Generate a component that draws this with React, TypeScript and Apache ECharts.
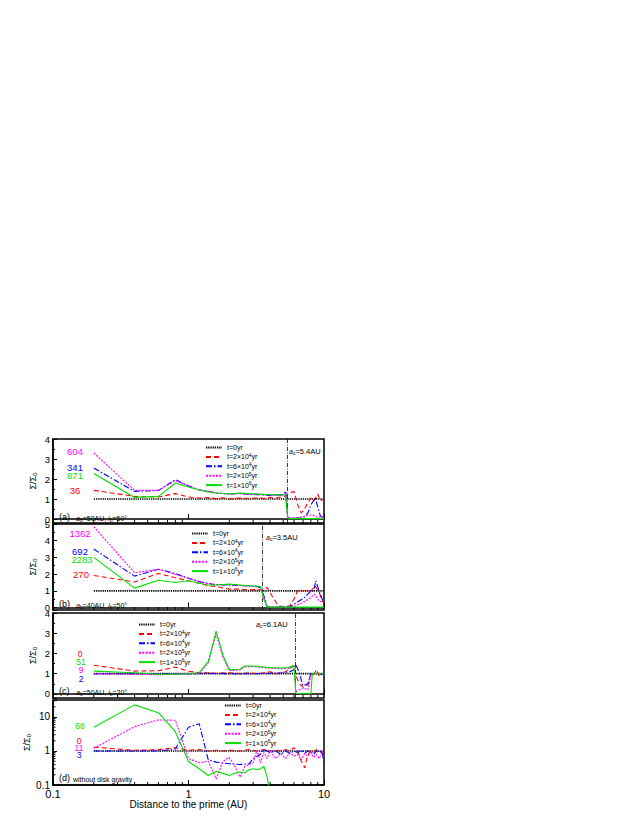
import React, { useEffect, useRef } from "react";
import * as echarts from "echarts";

const FONT = "Liberation Sans, Arial, sans-serif";

// ---------- data ----------
const seriesNames = ["t=0yr", "t=2×10^4yr", "t=6×10^4yr", "t=2×10^5yr", "t=1×10^6yr"];
const xTickLabels = ["0.1", "1", "10"];
const baseline = [[0.2, 1], [10, 1]];

// panel (a)
const aRed = [[0.2,1.43],[0.4,1.13],[0.6,1.1],[0.8,1.27],[1.0,1.1],[1.2,1.05],[1.4,1.07],[1.6,1.02],[1.8,1.06],[2.0,1.0],[2.4,1.05],[2.8,1.02],[3.2,1.06],[3.6,1.03],[4.0,1.08],[4.4,1.05],[4.8,1.1],[5.2,1.15],[5.6,1.3],[6.0,1.38],[6.4,0.7],[6.8,0.3],[7.2,0.5],[7.6,0.8],[8.0,1.05],[8.4,0.9],[9.0,1.25],[9.4,0.9],[10,1.0]];
const aBlue = [[0.2,2.55],[0.4,1.38],[0.6,1.43],[0.8,1.97],[1.0,1.65],[1.2,1.45],[1.4,1.38],[1.6,1.3],[2.0,1.25],[2.4,1.28],[2.8,1.24],[3.2,1.22],[3.6,1.2],[4.0,1.18],[4.4,1.2],[4.8,1.22],[5.0,1.2],[5.2,1.4],[5.4,0.05],[6.0,0.05],[7.0,0.05],[7.6,0.3],[8.0,0.7],[8.6,1.05],[9.0,0.6],[9.4,0.15],[10,0.05]];
const aMagenta = [[0.2,3.3],[0.4,1.43],[0.6,1.43],[0.8,1.92],[1.0,1.65],[1.2,1.45],[1.4,1.38],[1.6,1.3],[2.0,1.25],[2.4,1.27],[2.8,1.22],[3.2,1.25],[3.6,1.2],[4.0,1.2],[4.4,1.18],[4.8,1.2],[5.2,1.25],[5.4,0.05],[6.0,0.05],[7.0,0.1],[7.6,0.2],[8.2,0.2],[8.8,0.1],[10,0.1]];
const aGreen = [[0.2,2.27],[0.4,1.08],[0.6,1.13],[0.8,1.8],[1.0,1.6],[1.2,1.45],[1.4,1.35],[1.6,1.3],[2.0,1.25],[2.4,1.3],[2.8,1.27],[3.2,1.25],[3.6,1.23],[4.0,1.22],[4.4,1.22],[4.8,1.2],[5.2,1.22],[5.4,0.02],[10,0.02]];

// panel (b)
const bRed = [[0.2,1.92],[0.4,1.53],[0.6,2.04],[0.8,1.78],[1.0,1.6],[1.2,1.45],[1.4,1.3],[1.6,1.25],[2.0,1.1],[2.4,1.1],[2.8,1.05],[3.2,1.08],[3.4,1.05],[3.6,1.1],[3.8,1.2],[4.2,0.6],[4.6,0.1],[5.0,0.05],[5.6,0.1],[6.0,0.5],[6.4,1.0],[7.0,1.0],[8.0,1.0],[8.6,1.3],[9.2,0.9],[10,0.2]];
const bBlue = [[0.2,3.5],[0.4,1.88],[0.6,2.29],[0.8,2.04],[1.0,1.75],[1.2,1.55],[1.4,1.45],[1.6,1.35],[2.0,1.35],[2.4,1.32],[2.8,1.3],[3.2,1.25],[3.4,1.2],[3.6,0.7],[3.8,0.05],[4.4,0.02],[5.0,0.02],[5.6,0.05],[6.0,0.2],[6.6,0.4],[7.2,0.6],[7.6,0.8],[8.0,1.0],[8.4,1.0],[8.7,1.6],[9.2,1.0],[9.6,0.6],[10,0.2]];
const bMagenta = [[0.2,4.84],[0.4,2.08],[0.6,2.29],[0.8,1.98],[1.0,1.75],[1.2,1.55],[1.4,1.42],[1.6,1.38],[2.0,1.35],[2.4,1.32],[2.8,1.28],[3.2,1.25],[3.4,1.2],[3.6,0.6],[3.8,0.05],[5.0,0.02],[6.0,0.05],[7.0,0.3],[8.0,0.6],[8.5,0.8],[9.2,0.4],[10,0.3]];
const bGreen = [[0.2,3.0],[0.4,1.16],[0.6,1.63],[0.8,1.5],[1.0,1.6],[1.2,1.45],[1.4,1.35],[1.6,1.35],[2.0,1.4],[2.4,1.35],[2.8,1.3],[3.2,1.28],[3.4,1.25],[3.6,0.5],[3.8,0.02],[10,0.02]];

// panel (c)
const cRed = [[0.2,1.42],[0.4,1.13],[0.6,1.15],[0.8,1.33],[1.0,1.12],[1.2,1.05],[1.4,1.05],[1.6,1.02],[2.0,1.05],[2.4,1.0],[2.8,1.05],[3.2,1.0],[3.6,1.05],[4.0,1.1],[4.4,1.0],[4.8,1.05],[5.2,1.1],[5.6,1.25],[6.0,1.4],[6.2,0.9],[6.6,0.5],[7.0,0.35],[7.6,0.45],[8.0,1.0],[8.4,0.95],[8.8,1.2],[9.2,0.9],[9.6,1.0],[10,1.0]];
const cBlue = [[0.2,1.0],[0.6,1.0],[1.0,1.0],[1.4,1.02],[2.0,1.0],[3.0,1.0],[4.0,1.02],[5.0,1.05],[5.6,1.1],[6.0,1.2],[6.2,1.45],[6.6,1.0],[7.0,0.4],[7.6,0.5],[8.0,1.0],[8.4,1.0],[9.0,1.0],[9.6,0.95],[10,1.0]];
const cMagenta = [[0.2,1.0],[0.6,0.95],[1.0,1.0],[1.2,1.0],[1.4,1.55],[1.6,2.95],[1.8,1.8],[2.0,1.15],[2.4,1.18],[2.6,1.35],[3.0,1.35],[3.6,1.3],[4.0,1.27],[4.8,1.25],[5.4,1.25],[6.0,1.38],[6.2,0.1],[7.0,0.3],[7.6,0.2],[8.0,0.9],[8.4,1.0],[9.0,1.0],[10,1.0]];
const cGreen = [[0.2,1.13],[0.4,1.05],[0.6,0.97],[0.8,0.97],[1.0,1.0],[1.2,1.05],[1.4,1.6],[1.6,3.1],[1.8,1.9],[2.0,1.2],[2.4,1.22],[2.6,1.38],[3.0,1.38],[3.6,1.33],[4.0,1.3],[4.8,1.28],[5.4,1.3],[6.0,1.4],[6.2,0.02],[7.0,0.02],[8.0,0.02],[8.2,1.0],[9.0,1.0],[10,1.0]];

// panel (d)
const dRed = [[0.2,1.3],[0.4,1.05],[0.6,1.1],[0.8,1.25],[1.0,1.05],[1.2,1.1],[1.4,1.0],[1.6,1.05],[1.8,1.0],[2.0,1.05],[2.4,1.0],[2.8,1.1],[3.2,1.0],[3.6,1.1],[4.0,1.0],[4.4,1.05],[4.8,1.0],[5.2,1.1],[5.6,1.0],[6.0,1.25],[6.4,1.0],[6.8,0.5],[7.2,0.32],[7.6,0.8],[8.0,1.0],[8.4,0.9],[8.8,1.1],[9.2,1.0],[9.6,0.9],[10,1.0]];
const dBlue = [[0.2,1.0],[0.4,1.0],[0.6,1.0],[0.8,1.15],[1.0,5.0],[1.2,6.3],[1.4,0.55],[1.6,0.47],[2.0,0.42],[2.4,0.4],[2.8,0.42],[3.0,0.6],[3.4,0.8],[3.6,1.1],[4.0,0.9],[4.4,1.0],[4.8,0.8],[5.2,1.0],[5.6,0.85],[6.0,1.0],[6.4,0.9],[6.8,1.05],[7.2,0.85],[7.6,1.0],[8.0,0.95],[8.4,0.8],[8.8,1.0],[9.2,0.9],[9.6,1.0],[10,0.5]];
const dMagenta = [[0.2,1.2],[0.4,5.2],[0.6,8.2],[0.8,8.0],[1.0,0.6],[1.2,0.45],[1.4,0.5],[1.6,0.15],[1.8,0.5],[2.0,0.65],[2.2,0.35],[2.4,0.17],[2.6,0.35],[2.8,0.4],[3.0,0.45],[3.2,1.05],[3.4,0.45],[3.6,0.9],[3.8,0.6],[4.0,1.0],[4.4,0.6],[4.8,0.85],[5.2,0.6],[5.6,0.9],[6.0,0.7],[6.4,0.8],[6.8,0.55],[7.2,0.85],[7.6,0.7],[8.0,0.9],[8.4,0.65],[8.8,0.8],[9.2,0.6],[9.6,0.85],[10,0.7]];
const dGreen = [[0.2,5.0],[0.4,22.7],[0.6,13.4],[0.8,3.7],[1.0,0.49],[1.2,0.3],[1.4,0.19],[1.6,0.25],[1.8,0.22],[2.0,0.19],[2.2,0.22],[2.4,0.24],[2.6,0.23],[2.8,0.28],[3.0,0.3],[3.2,0.28],[3.4,0.3],[3.6,0.35],[3.8,0.18],[4.0,0.05]];

const criticalRadius = [5.4, 3.5, 6.1, null];
const yMins = [-0.2, -0.15, -0.2, 0.1];
const yMaxs = [4, 5, 4, 31.6];
const leftNumbers = [
  [["604", "#ff00ff"], ["341", "#0000ff"], ["871", "#00e000"], ["36", "#ff0000"]],
  [["1362", "#ff00ff"], ["692", "#0000ff"], ["2283", "#00e000"], ["270", "#ff0000"]],
  [["0", "#ff0000"], ["51", "#00e000"], ["9", "#ff00ff"], ["2", "#0000ff"]],
  [["68", "#00e000"], ["0", "#ff0000"], ["11", "#ff00ff"], ["3", "#0000ff"]],
];
const panelData = [
  [aRed, aBlue, aMagenta, aGreen],
  [bRed, bBlue, bMagenta, bGreen],
  [cRed, cBlue, cMagenta, cGreen],
  [dRed, dBlue, dMagenta, dGreen],
];
const xMinorTicks = [0.2,0.3,0.4,0.5,0.6,0.7,0.8,0.9,2,3,4,5,6,7,8,9];
const yMinorTicksLog = [0.2,0.3,0.4,0.5,0.6,0.7,0.8,0.9,2,3,4,5,6,7,8,9,20,30];

// ---------- layout / style ----------
const grids = [
  { left: 53, top: 439, width: 271, height: 84 },
  { left: 53, top: 524, width: 271, height: 86 },
  { left: 53, top: 613, width: 271, height: 85 },
  { left: 53, top: 700, width: 271, height: 85 },
];
const lineStyles = [
  { color: "#000000", type: [1.3, 0.9], width: 1.7 },
  { color: "#ff0000", type: [5, 3], width: 1.1 },
  { color: "#0000ff", type: [6, 2, 1.5, 2], width: 1.1 },
  { color: "#ff00ff", type: [2, 1.3], width: 1.1 },
  { color: "#00e000", type: "solid", width: 1.1 },
];
const legendPos = [
  { left: 205, top: 443 },
  { left: 191, top: 529 },
  { left: 138, top: 620 },
  { left: 224, top: 701 },
];
const numberPos = [
  [[75, 451], [75, 467], [75, 475], [75, 490]],
  [[80, 533], [80, 551], [82, 559], [81, 574]],
  [[80, 654], [81, 662], [81, 670], [81, 679]],
  [[80, 726], [79, 741], [79, 748], [79, 755]],
];
const numberFont = [9.5, 9.5, 8.5, 8.5];
const acPos = [[289, 451], [266, 537], [256, 624]];
const panelLabelY = [517, 604, 691, 778];
const panelTexts = [
  "{it|a}{sub|b}{n|=50AU, }{it|i}{sub|b}{n|=50°}",
  "{it|a}{sub|b}{n|=40AU, }{it|i}{sub|b}{n|=50°}",
  "{it|a}{sub|b}{n|=50AU, }{it|i}{sub|b}{n|=20°}",
  "{n|without disk gravity}",
];
const panelTags = ["(a)", "(b)", "(c)", "(d)"];

function logLabel(v: number) {
  const l = Math.log10(v);
  const r = Math.round(l);
  if (Math.abs(l - r) < 1e-6 && r >= -1 && r <= 1) return xTickLabels[r + 1];
  return "";
}

export default function App() {
  const ref = useRef<HTMLDivElement>(null);
  useEffect(() => {
    if (!ref.current) return;
    const chart = echarts.init(ref.current, null, { renderer: "svg" });

    const xAxis: any[] = grids.map((_, i) => ({
      type: "log",
      gridIndex: i,
      min: 0.1,
      max: 10,
      logBase: 10,
      axisLine: { show: true, lineStyle: { color: "#000", width: 1.5 } },
      axisTick: { show: true, inside: true, length: 5, lineStyle: { color: "#000", width: 1 } },
      splitLine: { show: false },
      axisLabel: i === 3
        ? { show: true, formatter: (v: number) => logLabel(v), fontSize: 11, fontFamily: FONT, color: "#000", margin: 3 }
        : { show: false },
      name: i === 3 ? "Distance to the prime (AU)" : "",
      nameLocation: "middle",
      nameGap: 14,
      nameTextStyle: { fontSize: 10, fontFamily: FONT, color: "#000" },
    }));

    const yAxis: any[] = grids.map((_, i) => {
      const base: any = {
        gridIndex: i,
        min: yMins[i],
        max: yMaxs[i],
        axisLine: { show: true, lineStyle: { color: "#000", width: 1.5 } },
        axisTick: { show: true, inside: true, length: 4, lineStyle: { color: "#000", width: 1 } },
        splitLine: { show: false },
        name: "{m|Σ/Σ}{s|0}",
        nameLocation: "middle",
        nameRotate: 90,
        nameGap: 15,
        nameTextStyle: {
          color: "#000",
          rich: {
            m: { fontSize: 9, fontFamily: FONT, color: "#000" },
            s: { fontSize: 6, fontFamily: FONT, color: "#000", verticalAlign: "bottom", padding: [4, 0, 0, 0] },
          },
        },
      };
      if (i === 3) {
        base.type = "log";
        base.logBase = 10;
        base.axisLabel = { formatter: (v: number) => logLabel(v), fontSize: 10, fontFamily: FONT, color: "#000", margin: 3 };
      } else {
        base.type = "value";
        base.minorTick = { show: true, splitNumber: 2, length: 2, lineStyle: { color: "#000" } };
        base.axisLabel = {
          formatter: (v: number) => (Math.abs(v - Math.round(v)) < 1e-9 ? String(Math.round(v)) : ""),
          fontSize: 9.5, fontFamily: FONT, color: "#000", margin: 3,
        };
      }
      return base;
    });

    const series: any[] = [];
    grids.forEach((_, gi) => {
      const lists = [baseline, ...panelData[gi]];
      lists.forEach((d, si) => {
        const s: any = {
          type: "line",
          name: seriesNames[si],
          xAxisIndex: gi,
          yAxisIndex: gi,
          data: d,
          showSymbol: false,
          symbol: "none",
          lineStyle: { ...lineStyles[si] },
          itemStyle: { color: lineStyles[si].color },
          z: 2 + si,
        };
        if (si === 0 && criticalRadius[gi] != null) {
          s.markLine = {
            silent: true,
            symbol: "none",
            label: { show: false },
            lineStyle: { color: "#000", type: [4, 1.5, 1, 1.5], width: 0.8 },
            data: [{ xAxis: criticalRadius[gi] }],
          };
        }
        series.push(s);
      });
      series.push({
        type: "custom",
        xAxisIndex: gi,
        yAxisIndex: gi,
        data: xMinorTicks.map((v) => [v]),
        silent: true,
        renderItem: (params: any, api: any) => {
          const p = api.coord([api.value(0), yMins[gi]]);
          return { type: "line", shape: { x1: p[0], y1: p[1], x2: p[0], y2: p[1] - 3 }, style: { stroke: "#000", lineWidth: 1 } };
        },
      });
      if (gi === 3) {
        series.push({
          type: "custom",
          xAxisIndex: gi,
          yAxisIndex: gi,
          data: yMinorTicksLog.map((v) => [0.1, v]),
          silent: true,
          renderItem: (params: any, api: any) => {
            const p = api.coord([0.1, api.value(1)]);
            return { type: "line", shape: { x1: p[0], y1: p[1], x2: p[0] + 2.5, y2: p[1] }, style: { stroke: "#000", lineWidth: 1 } };
          },
        });
      }
    });

    const legend = legendPos.map((p) => ({
      show: true,
      orient: "vertical",
      left: p.left,
      top: p.top,
      padding: 0,
      itemWidth: 16,
      itemHeight: 9,
      itemGap: 0.4,
      selectedMode: false,
      itemStyle: { opacity: 0, borderWidth: 0 },
      data: seriesNames,
      formatter: (name: string) => name.replace(/\^(\d)/, "{sup|$1}"),
      textStyle: {
        fontSize: 7,
        fontFamily: FONT,
        color: "#000",
        lineHeight: 9,
        rich: { sup: { fontSize: 5, fontFamily: FONT, color: "#000", verticalAlign: "top", lineHeight: 6 } },
      },
    }));

    const graphic: any[] = [];
    leftNumbers.forEach((nums, gi) => {
      nums.forEach(([t, c], k) => {
        graphic.push({
          type: "text",
          x: numberPos[gi][k][0],
          y: numberPos[gi][k][1],
          style: { text: t, fill: c, fontSize: numberFont[gi], fontFamily: FONT, align: "center", verticalAlign: "middle" },
          z: 100,
        });
      });
    });
    acPos.forEach((p, i) => {
      graphic.push({
        type: "text",
        x: p[0],
        y: p[1],
        style: {
          text: `{it|a}{sub|c}{n|=${criticalRadius[i]}AU}`,
          fill: "#000",
          align: "left",
          verticalAlign: "middle",
          rich: {
            it: { fontSize: 7, fontStyle: "italic", fontFamily: FONT, fill: "#000" },
            sub: { fontSize: 5, fontFamily: FONT, fill: "#000", verticalAlign: "bottom", padding: [3, 0, 0, 0] },
            n: { fontSize: 7.5, fontFamily: FONT, fill: "#000" },
          },
        },
        z: 100,
      });
    });
    panelTags.forEach((tag, i) => {
      graphic.push({
        type: "text",
        x: 59,
        y: panelLabelY[i],
        style: { text: tag, fill: "#000", fontSize: 9, fontFamily: FONT, align: "left", verticalAlign: "middle" },
        z: 100,
      });
      graphic.push({
        type: "text",
        x: i === 3 ? 73 : 76,
        y: panelLabelY[i] + 1,
        style: {
          text: panelTexts[i],
          fill: "#000",
          align: "left",
          verticalAlign: "middle",
          rich: {
            it: { fontSize: 7, fontStyle: "italic", fontFamily: FONT, fill: "#000" },
            sub: { fontSize: 5, fontFamily: FONT, fill: "#000", verticalAlign: "bottom", padding: [3, 0, 0, 0] },
            n: { fontSize: 7, fontFamily: FONT, fill: "#000" },
          },
        },
        z: 100,
      });
    });

    chart.setOption({
      animation: false,
      backgroundColor: "#ffffff",
      grid: grids.map((g) => ({ ...g, show: true, borderColor: "#000", borderWidth: 1.5, backgroundColor: "transparent" })),
      xAxis,
      yAxis,
      legend,
      series,
      graphic,
    });
    return () => chart.dispose();
  }, []);

  return <div ref={ref} style={{ position: "fixed", left: 0, top: 0, width: 638, height: 825 }} />;
}
